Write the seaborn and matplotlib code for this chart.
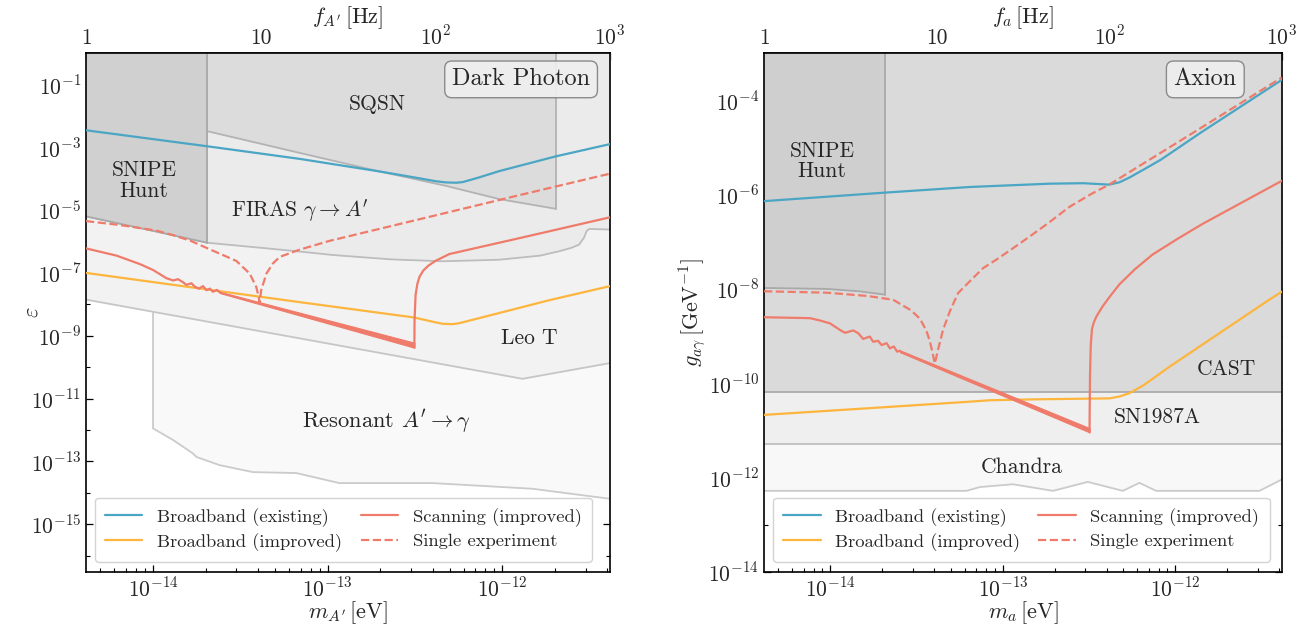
import numpy as np
import matplotlib
matplotlib.use('Agg')
import matplotlib.pyplot as plt
import seaborn as sns
from matplotlib.ticker import (FixedLocator, FixedFormatter, FuncFormatter,
                               LogLocator, NullFormatter)

H_EV = 4.135667e-15  # eV per Hz (m = h f)

# every x value below is log10(f / Hz), every y value log10(coupling)

# ---- dark photon panel ----
dp_snipe_logf = [0.0, 0.35, 0.695]
dp_snipe_low = [-5.20, -5.62, -6.04]

dp_sqsn_logf = [0.695, 1.223, 1.68, 2.061, 2.366, 2.69]
dp_sqsn_low = [-2.49, -3.18, -3.77, -4.23, -4.65, -4.96]

dp_firas_logf = [0.0, 0.35, 0.695, 1.0, 1.223, 1.413, 1.75, 2.042, 2.366, 2.6,
                 2.709, 2.78, 2.823, 2.851, 2.866, 2.88, 3.0]
dp_firas_low = [-5.20, -5.62, -6.04, -6.20, -6.32, -6.43, -6.57, -6.63, -6.58, -6.45,
                -6.31, -6.20, -6.10, -5.88, -5.67, -5.60, -5.62]

dp_leot_logf = [0.0, 2.499, 3.0]
dp_leot_low = [-7.85, -10.37, -9.87]

dp_res_logf = [0.384, 0.499, 0.613, 0.633, 0.766, 0.956, 1.204, 1.451, 1.985, 2.556, 3.0]
dp_res_low = [-11.95, -12.32, -12.75, -12.86, -13.12, -13.34, -13.37, -13.69, -13.69,
              -13.87, -14.19]

dp_exist_logf = [0.0, 0.695, 1.223, 1.68, 1.9, 2.0, 2.061, 2.12, 2.156, 2.251, 2.366,
                 2.69, 3.0]
dp_exist = [-2.46, -2.97, -3.37, -3.77, -3.98, -4.08, -4.12, -4.13, -4.11, -3.96, -3.76,
            -3.29, -2.90]

dp_impr_logf = [0.0, 1.223, 1.88, 1.99, 2.042, 2.10, 2.137, 2.3, 2.651, 3.0]
dp_impr = [-7.00, -7.93, -8.42, -8.56, -8.62, -8.63, -8.60, -8.37, -7.87, -7.42]

dp_scan_logf = [0.0, 0.175, 0.309, 0.385, 0.461, 0.499, 0.527, 0.556, 0.575, 0.604,
                0.623, 0.647, 0.670, 0.690, 0.709, 0.727, 0.75, 0.766]
dp_scan = [-6.22, -6.45, -6.72, -6.91, -7.17, -7.24, -7.20, -7.30, -7.38, -7.33,
           -7.44, -7.50, -7.42, -7.55, -7.50, -7.60, -7.54, -7.62]
dp_band_logf = [0.766, 1.88]
dp_band_top = [-7.60, -9.22]
dp_band_bot = [-7.64, -9.38]
dp_rise_logf = [1.88, 1.881, 1.887, 1.897, 1.909, 1.93, 1.96, 2.0, 2.08, 2.5, 3.0]
dp_rise = [-9.38, -8.5, -7.7, -7.35, -7.13, -6.93, -6.77, -6.62, -6.40, -5.87, -5.23]

dp_single_logf = [0.0, 0.2, 0.4, 0.5, 0.6, 0.709, 0.8, 0.861, 0.937, 0.975, 0.99, 0.994,
                  1.003, 1.033, 1.07, 1.109, 1.223, 1.394, 1.604, 2.0, 2.5, 3.0]
dp_single = [-5.35, -5.48, -5.65, -5.80, -5.98, -6.25, -6.47, -6.62, -7.02, -7.45, -7.80,
             -7.95, -7.55, -7.02, -6.70, -6.49, -6.26, -5.98, -5.70, -5.17, -4.50, -3.84]

# ---- axion panel ----
ax_snipe_logf = [0.0, 0.363, 0.55, 0.698]
ax_snipe_low = [-7.98, -8.00, -8.05, -8.12]

ax_cast_logf = [0.0, 3.0]
ax_cast_low = [-10.19, -10.19]

ax_sn_logf = [0.0, 3.0]
ax_sn_low = [-11.29, -11.29]

ax_chandra_logf = [0.0, 1.173, 1.25, 1.442, 1.674, 1.876, 2.079, 2.175, 2.272, 2.349,
                   2.870, 3.0]
ax_chandra_low = [-12.28, -12.28, -12.20, -12.14, -12.28, -12.09, -12.28, -12.11, -12.28,
                  -12.28, -12.28, -12.04]

ax_exist_logf = [0.0, 0.698, 1.192, 1.655, 1.85, 2.0, 2.06, 2.117, 2.2, 2.3, 2.542, 3.0]
ax_exist = [-6.14, -5.96, -5.84, -5.77, -5.76, -5.79, -5.74, -5.64, -5.47, -5.26, -4.66,
            -3.57]

ax_impr_logf = [0.0, 0.6, 1.192, 1.307, 1.578, 2.002, 2.06, 2.117, 2.2, 2.349, 2.927, 3.0]
ax_impr = [-10.67, -10.53, -10.39, -10.36, -10.34, -10.32, -10.28, -10.21, -10.04, -9.65,
           -8.23, -8.06]

ax_scan_logf = [0.0, 0.266, 0.324, 0.382, 0.44, 0.469, 0.517, 0.546, 0.574, 0.613, 0.632,
                0.661, 0.681, 0.71, 0.729, 0.752, 0.771, 0.787]
ax_scan = [-8.60, -8.62, -8.67, -8.73, -8.87, -8.93, -8.88, -8.94, -9.06, -9.01, -9.12,
           -9.10, -9.19, -9.15, -9.26, -9.22, -9.33, -9.31]
ax_band_logf = [0.787, 1.886]
ax_band_top = [-9.30, -10.95]
ax_band_bot = [-9.34, -11.04]
ax_rise_logf = [1.886, 1.887, 1.889, 1.893, 1.9, 1.91, 1.925, 1.96, 2.0, 2.06, 2.15,
                2.252, 2.4, 2.542, 3.0]
ax_rise = [-11.04, -10.5, -9.8, -9.2, -8.85, -8.72, -8.59, -8.38, -8.18, -7.90, -7.58,
           -7.27, -6.93, -6.62, -5.71]

ax_single_logf = [0.0, 0.363, 0.6, 0.748, 0.85, 0.903, 0.94, 0.96, 0.975, 0.989, 0.998,
                  1.008, 1.037, 1.076, 1.124, 1.211, 1.269, 1.346, 1.442, 1.539, 1.645,
                  1.77, 1.9, 2.0, 2.5, 3.0]
ax_single = [-8.05, -8.08, -8.15, -8.23, -8.45, -8.63, -8.88, -9.10, -9.33, -9.58, -9.45,
             -9.29, -8.87, -8.48, -8.09, -7.77, -7.56, -7.38, -7.14, -6.89, -6.61, -6.26,
             -5.98, -5.79, -4.66, -3.52]

C_BLUE = '#4aa6c4'
C_ORANGE = '#fdb53d'
C_RED = '#ef7b6b'


def mass(logf):
    return H_EV * 10 ** np.asarray(logf, dtype=float)


def shade(ax, logf, logy, fc, ec, z, top, left_edge=False, right_edge=False):
    x = mass(logf)
    y = 10 ** np.asarray(logy, dtype=float)
    ax.fill_between(x, y, top, color=fc, lw=0, zorder=z)
    ax.plot(x, y, color=ec, lw=1.3, zorder=z + 0.1)
    if left_edge:
        ax.plot([x[0], x[0]], [y[0], top], color=ec, lw=1.3, zorder=z + 0.1)
    if right_edge:
        ax.plot([x[-1], x[-1]], [y[-1], top], color=ec, lw=1.3, zorder=z + 0.1)


def curve(ax, logf, logy, color, label=None, ls='-'):
    sns.lineplot(x=mass(logf), y=10 ** np.asarray(logy, dtype=float), ax=ax,
                 color=color, lw=1.6, ls=ls, sort=False, estimator=None,
                 label=label, zorder=5)


def band(ax, logf, top, bot):
    ax.fill_between(mass(logf), 10 ** np.asarray(bot), 10 ** np.asarray(top),
                    color=C_RED, lw=0.8, edgecolor=C_RED, zorder=5)


def setup_axes(ax, ylim, major_exp, minor_exp, xlab, toplab, ylab, ylab_x):
    ax.set_xscale('log')
    ax.set_yscale('log')
    ax.set_xlim(mass(0.0), mass(3.0))
    ax.set_ylim(*ylim)
    ax.yaxis.set_major_locator(FixedLocator(10.0 ** np.array(major_exp)))
    ax.yaxis.set_minor_locator(FixedLocator(10.0 ** np.array(minor_exp)))
    ax.yaxis.set_major_formatter(FuncFormatter(
        lambda v, p: r'$10^{%d}$' % int(round(np.log10(v)))))
    ax.yaxis.set_minor_formatter(NullFormatter())
    ax.xaxis.set_major_locator(FixedLocator([1e-14, 1e-13, 1e-12]))
    ax.xaxis.set_major_formatter(FuncFormatter(
        lambda v, p: r'$10^{%d}$' % int(round(np.log10(v)))))
    ax.xaxis.set_minor_locator(LogLocator(base=10, subs=np.arange(2, 10)))
    ax.xaxis.set_minor_formatter(NullFormatter())
    ax.tick_params(which='both', direction='in', top=False, right=True,
                   labelsize=15.5, color='black')
    ax.tick_params(which='major', length=5, width=0.9)
    ax.tick_params(which='minor', length=2.6, width=0.8)
    for s in ax.spines.values():
        s.set_color('black')
        s.set_linewidth(1.2)
    ax.set_xlabel(xlab, fontsize=16, labelpad=-1)
    ax.set_ylabel(ylab, fontsize=16)
    ax.yaxis.set_label_coords(ylab_x, 0.5)

    sec = ax.secondary_xaxis('top', functions=(lambda m: m / H_EV, lambda f: f * H_EV))
    sec.xaxis.set_major_locator(FixedLocator([1, 10, 100, 1000]))
    sec.xaxis.set_major_formatter(FixedFormatter(['1', '10', r'$10^2$', r'$10^3$']))
    sec.xaxis.set_minor_locator(LogLocator(base=10, subs=np.arange(2, 10)))
    sec.xaxis.set_minor_formatter(NullFormatter())
    sec.tick_params(which='both', direction='in', labelsize=15.5, color='black')
    sec.tick_params(which='major', length=5, width=0.9)
    sec.tick_params(which='minor', length=2.6, width=0.8)
    sec.spines['top'].set_linewidth(1.2)
    sec.set_xlabel(toplab, fontsize=16, labelpad=1)


def legend(ax, x0, w):
    ax.legend(loc='lower left', ncol=2, fontsize=13.4, mode='expand',
              bbox_to_anchor=(x0, 0.0193, w, 0.124), borderaxespad=0,
              handlelength=2.0, columnspacing=2.0, labelspacing=0.35,
              borderpad=0.55, fancybox=True, framealpha=0.85, edgecolor='#cccccc')


sns.set_theme(style='ticks')
plt.rcParams['font.family'] = ['cmr10', 'DejaVu Serif']
plt.rcParams['mathtext.fontset'] = 'cm'
plt.rcParams['axes.unicode_minus'] = False
plt.rcParams['axes.formatter.use_mathtext'] = True

fig = plt.figure(figsize=(13.09, 6.27), dpi=100)
axl = fig.add_axes([0.0657, 0.0877, 0.4003, 0.8278])
axr = fig.add_axes([0.5837, 0.0877, 0.3955, 0.8278])

# ---------------- dark photon ----------------
setup_axes(axl, (10 ** -16.52, 1.0), np.arange(-15, 0, 2), np.arange(-16, 1, 2),
           r"$m_{A^\prime}\,[\mathrm{eV}]$", r"$f_{A^\prime}\,[\mathrm{Hz}]$",
           r"$\varepsilon$", -0.084)
TOP_L = 10.0
shade(axl, dp_res_logf, dp_res_low, '#f9f9f9', '#cbcbcb', 1, TOP_L, left_edge=True)
shade(axl, dp_leot_logf, dp_leot_low, '#f2f2f2', '#c6c6c6', 1.2, TOP_L)
shade(axl, dp_firas_logf, dp_firas_low, '#ebebeb', '#bdbdbd', 1.4, TOP_L)
shade(axl, dp_sqsn_logf, dp_sqsn_low, '#dcdcdc', '#b3b3b3', 1.6, TOP_L, right_edge=True)
shade(axl, dp_snipe_logf, dp_snipe_low, '#d0d0d0', '#a9a9a9', 1.8, TOP_L, right_edge=True)

curve(axl, dp_exist_logf, dp_exist, C_BLUE, 'Broadband (existing)')
curve(axl, dp_impr_logf, dp_impr, C_ORANGE, 'Broadband (improved)')
curve(axl, dp_scan_logf, dp_scan, C_RED, 'Scanning (improved)')
curve(axl, dp_single_logf, dp_single, C_RED, 'Single experiment', ls='--')
band(axl, dp_band_logf, dp_band_top, dp_band_bot)
curve(axl, dp_rise_logf, dp_rise, C_RED)

txt = dict(ha='center', va='center', fontsize=15.5, zorder=6)
axl.text(mass(0.331), 10 ** -4.07, 'SNIPE\nHunt', linespacing=1.05, **txt)
axl.text(mass(1.669), 10 ** -1.64, 'SQSN', **txt)
axl.text(mass(1.223), 10 ** -5.03, r'FIRAS $\gamma\rightarrow A^\prime$', **txt)
axl.text(mass(2.537), 10 ** -9.08, 'Leo T', **txt)
axl.text(mass(1.72), 10 ** -11.73, r'Resonant $A^\prime\rightarrow\gamma$',
         ha='center', va='center', fontsize=16.2, zorder=6)
axl.text(mass(2.491), 10 ** -0.84, 'Dark Photon', ha='center', va='center',
         fontsize=17.5, zorder=7,
         bbox=dict(boxstyle='round,pad=0.3', fc='#efefef', ec='#808080', lw=1.0, alpha=0.9))
legend(axl, 0.0172, 0.948)

# ---------------- axion ----------------
setup_axes(axr, (1e-14, 1e-3), np.arange(-14, -2, 2), np.arange(-13, -2, 2),
           r"$m_a\,[\mathrm{eV}]$", r"$f_a\,[\mathrm{Hz}]$",
           r"$g_{a\gamma}\,[\mathrm{GeV}^{-1}]$", -0.108)
TOP_R = 1e-2
shade(axr, ax_chandra_logf, ax_chandra_low, '#f8f8f8', '#cbcbcb', 1, TOP_R)
shade(axr, ax_sn_logf, ax_sn_low, '#efefef', '#c0c0c0', 1.2, TOP_R)
shade(axr, ax_cast_logf, ax_cast_low, '#dadada', '#ababab', 1.4, TOP_R)
shade(axr, ax_snipe_logf, ax_snipe_low, '#cfcfcf', '#a9a9a9', 1.6, TOP_R, right_edge=True)

curve(axr, ax_exist_logf, ax_exist, C_BLUE, 'Broadband (existing)')
curve(axr, ax_impr_logf, ax_impr, C_ORANGE, 'Broadband (improved)')
curve(axr, ax_scan_logf, ax_scan, C_RED, 'Scanning (improved)')
curve(axr, ax_single_logf, ax_single, C_RED, 'Single experiment', ls='--')
band(axr, ax_band_logf, ax_band_top, ax_band_bot)
curve(axr, ax_rise_logf, ax_rise, C_RED)

axr.text(mass(0.336), 10 ** -5.29, 'SNIPE\nHunt', linespacing=1.05, **txt)
axr.text(mass(2.679), 10 ** -9.71, 'CAST', **txt)
axr.text(mass(2.279), 10 ** -10.73, 'SN1987A', **txt)
axr.text(mass(1.493), 10 ** -11.79, 'Chandra', **txt)
axr.text(mass(2.557), 10 ** -3.56, 'Axion', ha='center', va='center',
         fontsize=17.5, zorder=7,
         bbox=dict(boxstyle='round,pad=0.3', fc='#efefef', ec='#808080', lw=1.0, alpha=0.9))
legend(axr, 0.0174, 0.959)

fig.savefig('out.png', dpi=100)
